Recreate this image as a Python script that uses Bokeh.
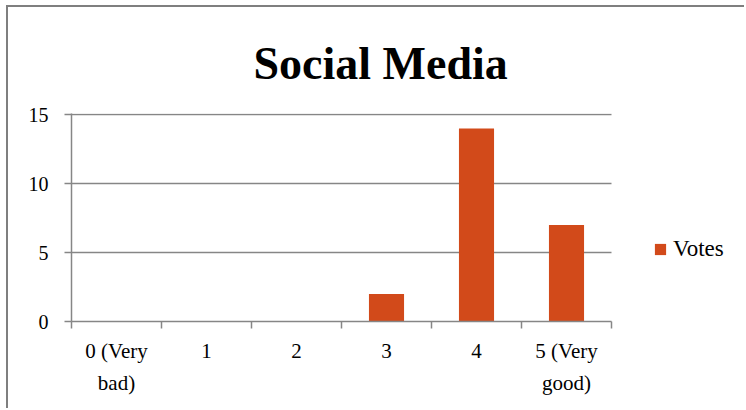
from bokeh.plotting import figure
from bokeh.models import Range1d, FixedTicker, Legend, LegendItem
from bokeh.embed import file_html
from bokeh.resources import INLINE

# ---- data ----
categories = ["0 (Very\nbad)", "1", "2", "3", "4", "5 (Very\ngood)"]
votes = [0, 0, 0, 2, 14, 7]
y_ticks = [0, 5, 10, 15]
series_name = "Votes"
title_text = "Social Media"

GRAY = "#868686"
BAR = "#D24A1A"
FONT = "Liberation Serif"

n = len(categories)
xs = [i + 0.5 for i in range(n)]
bounds = list(range(n + 1))

# frame spans the plot area plus the legend area on the right;
# grid and axis are bounded to the category span
p = figure(width=738, height=403,
           x_range=Range1d(0, 7.5), y_range=Range1d(0, 15.08),
           output_backend="svg", toolbar_location=None,
           min_border_left=63, min_border_right=0,
           min_border_top=106, min_border_bottom=89)
p.styles = {"border-left": "2px solid #7f7f7f", "border-top": "2px solid #7f7f7f",
            "margin-left": "6px", "margin-top": "5px"}
p.outline_line_color = None
p.background_fill_color = "white"
p.border_fill_color = "white"

r = p.vbar(x=xs, top=votes, width=0.39, fill_color=BAR, line_color=None)

# title
p.title.text = title_text
p.title.text_font = FONT
p.title.text_font_style = "bold"
p.title.text_font_size = "46px"
p.title.align = "left"
p.title.offset = 182
p.title.vertical_align = "top"
p.title.standoff = 46
p.title.text_color = "black"

# y axis
p.yaxis.ticker = FixedTicker(ticks=y_ticks)
p.yaxis.major_tick_out = 7
p.yaxis.major_tick_in = 0
p.yaxis.minor_tick_line_color = None
p.yaxis.major_tick_line_color = GRAY
p.yaxis.major_tick_line_width = 1.5
p.yaxis.axis_line_color = GRAY
p.yaxis.axis_line_width = 1.5
p.yaxis.major_label_text_font = FONT
p.yaxis.major_label_text_font_size = "20px"
p.yaxis.major_label_text_color = "black"
p.yaxis.major_label_standoff = 16

p.ygrid.ticker = FixedTicker(ticks=y_ticks)
p.ygrid.grid_line_color = GRAY
p.ygrid.grid_line_width = 1.5
p.ygrid.cross_bounds = (0, n)
p.xgrid.grid_line_color = None

# x axis
xaxis = p.below[0]
xaxis.ticker = FixedTicker(ticks=xs, minor_ticks=bounds)
xaxis.bounds = (0, n)
xaxis.major_tick_line_color = None
xaxis.major_tick_out = 0
xaxis.major_tick_in = 0
xaxis.minor_tick_out = 7
xaxis.minor_tick_in = 0
xaxis.minor_tick_line_color = GRAY
xaxis.minor_tick_line_width = 1.5
xaxis.axis_line_color = GRAY
xaxis.axis_line_width = 1.5
xaxis.major_label_overrides = {x: c for x, c in zip(xs, categories)}
xaxis.major_label_text_font = FONT
xaxis.major_label_text_font_size = "21px"
xaxis.major_label_text_line_height = 1.35
xaxis.major_label_text_color = "black"
xaxis.major_label_standoff = 10

legend = Legend(items=[LegendItem(label=series_name, renderers=[r])],
                location=(582, 59), glyph_width=14, glyph_height=14,
                label_text_font=FONT, label_text_font_size="23px",
                label_text_color="black", label_standoff=6,
                padding=0, margin=0, spacing=0,
                border_line_color=None, background_fill_alpha=0)
p.add_layout(legend, "center")

open("out.html", "w").write(file_html(p, INLINE))
